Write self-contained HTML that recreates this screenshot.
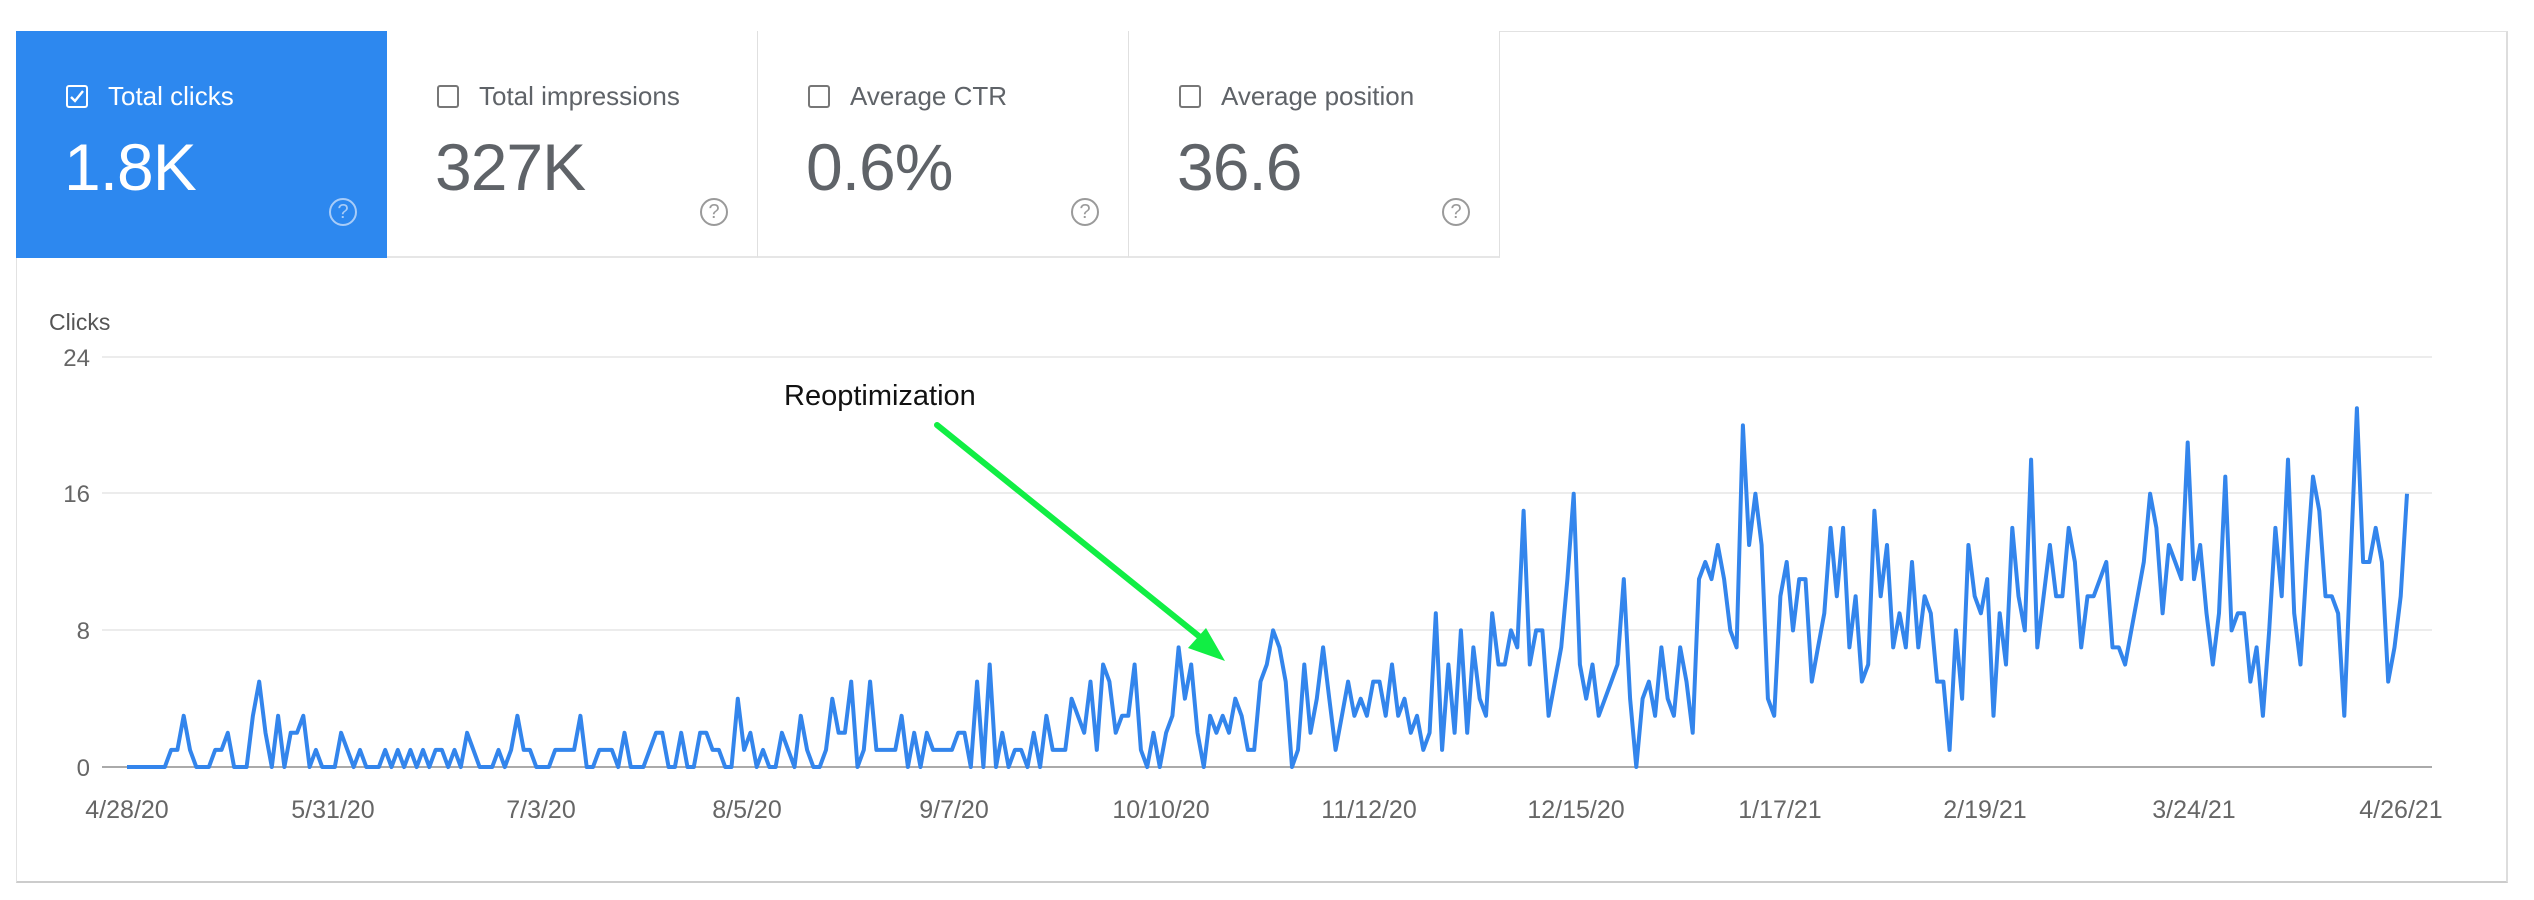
<!DOCTYPE html>
<html><head><meta charset="utf-8">
<style>
body{margin:0;width:2534px;height:900px;background:#fff;overflow:hidden;font-family:"Liberation Sans",Arial,sans-serif;position:relative}
.frame{position:absolute;left:16px;top:31px;width:2492px;height:852px;border:1px solid #e2e2e2;border-right:2px solid #ddd;border-bottom:2px solid #ccc;box-sizing:border-box}
.card{position:absolute;top:31px;height:227px;box-sizing:border-box;border-right:1px solid #e0e0e0;border-bottom:2px solid #e6e6e6;background:#fff}
.card.sel{background:#2d88ef;border:none}
.cb{position:absolute;left:50px;top:54px;width:22px;height:23px;border:2px solid #777;border-radius:3px;box-sizing:border-box}
.sel .cb{border-color:#fff}
.lbl{position:absolute;left:92px;top:50px;font-size:26px;color:#5f6368;white-space:nowrap}
.sel .lbl{color:#fff}
.num{position:absolute;left:48px;top:98px;font-size:66px;color:#5f6368;letter-spacing:-1px}
.sel .num{color:#fff}
.help{position:absolute;left:313px;top:167px;width:28px;height:28px;border:2px solid #9a9a9a;border-radius:50%;box-sizing:border-box;color:#9a9a9a;font-size:20px;text-align:center;line-height:25px}
.sel .help{border-color:#a8ccf8;color:#a8ccf8}
</style></head><body>
<div class="frame"></div>
<div class="card sel" style="left:16px;width:371px"><div class="cb"><svg width="18" height="19" style="position:absolute;left:0;top:0"><path d="M3 10 L7 14 L15 4" stroke="#fff" stroke-width="2.4" fill="none"/></svg></div><div class="lbl">Total clicks</div><div class="num">1.8K</div><div class="help">?</div></div>
<div class="card" style="left:387px;width:371px"><div class="cb"></div><div class="lbl">Total impressions</div><div class="num">327K</div><div class="help">?</div></div>
<div class="card" style="left:758px;width:371px"><div class="cb"></div><div class="lbl">Average CTR</div><div class="num">0.6%</div><div class="help">?</div></div>
<div class="card" style="left:1129px;width:371px"><div class="cb"></div><div class="lbl">Average position</div><div class="num">36.6</div><div class="help">?</div></div>

<svg id="ch" width="2534" height="900" style="position:absolute;left:0;top:0" xmlns="http://www.w3.org/2000/svg">
<g font-family="Liberation Sans, Arial, sans-serif" fill="#666">
<text x="49" y="330" font-size="23" fill="#555">Clicks</text>
<text x="90" y="366" font-size="24" text-anchor="end">24</text>
<text x="90" y="502" font-size="24" text-anchor="end">16</text>
<text x="90" y="639" font-size="24" text-anchor="end">8</text>
<text x="90" y="776" font-size="24" text-anchor="end">0</text>
</g>
<g stroke="#ececec" stroke-width="2">
<line x1="102" y1="357" x2="2432" y2="357"/>
<line x1="102" y1="493" x2="2432" y2="493"/>
<line x1="102" y1="630" x2="2432" y2="630"/>
</g>
<line x1="102" y1="767" x2="2432" y2="767" stroke="#aaa" stroke-width="2"/>
<g font-family="Liberation Sans, Arial, sans-serif" fill="#666" font-size="25" text-anchor="middle">
<text x="127" y="818">4/28/20</text>
<text x="333" y="818">5/31/20</text>
<text x="541" y="818">7/3/20</text>
<text x="747" y="818">8/5/20</text>
<text x="954" y="818">9/7/20</text>
<text x="1161" y="818">10/10/20</text>
<text x="1369" y="818">11/12/20</text>
<text x="1576" y="818">12/15/20</text>
<text x="1780" y="818">1/17/21</text>
<text x="1985" y="818">2/19/21</text>
<text x="2194" y="818">3/24/21</text>
<text x="2401" y="818">4/26/21</text>
</g>
<polyline id="pl" fill="none" stroke="#3385ec" stroke-width="4" stroke-linejoin="round"/>
<text x="784" y="405" font-family="Liberation Sans, Arial, sans-serif" font-size="29" fill="#111">Reoptimization</text>
<line x1="937" y1="425" x2="1200" y2="637" stroke="#11ee44" stroke-width="6" stroke-linecap="round"/>
<polygon points="1225,661 1188,648 1206,628" fill="#11ee44"/>
</svg>
<script>
var A="0,0,0,0,0,0,0,1,1,3,1,0,0,0,1,1,2,0,0,0,3,5,2,0,3,0,2,2,3,0,1,0,0,0,2,1,0,1,0,0,0,1,0,1,0,1,0,1,0,1,1,0,1,0,2,1,0,0,0,1,0,1,3,1,1,0,0,0,1,1,1,1,3,0,0,1,1,1,0,2,0,0,0,1,2,2,0,0,2,0,0,2,2,1,1,0,0,4,1,2,0,1,0,0,2,1,0,3,1,0,0,1,4,2,2,5,0,1,5,1,1,1,1,3,0,2,0,2,1,1,1,1,2,2,0,5,0,6,0,2,0,1,1,0,2,0,3,1,1,1,4,3,2,5,1,6,5,2,3,3,6,1,0,2,0,2,3,7,4,6,2,0,3,2,3,2,4,3,1,1,5,6,8,7,5,0".split(",").map(Number);
var B="1,6,2,4,7,4,1,3,5,3,4,3,5,5,3,6,3,4,2,3,1,2,9,1,6,2,8,2,7,4,3,9,6,6,8,7,15,6,8,8,3,5,7,11,16,6,4,6,3,4,5,6,11,4,0,4,5,3,7,4,3,7,5,2,11,12,11,13,11,8,7,20,13,16,13,4,3,10,12,8,11,11,5,7,9,14,10,14,7,10,5,6,15,10,13,7,9,7,12,7,10,9,5,5,1,8,4,13,10,9,11,3,9,6,14,10,8,18,7,10,13,10,10,14,12,7,10,10,11,12,7,7,6,8,10,12,16,14,9,13,12,11,19,11,13,9,6,9,17,8,9,9,5,7,3,8,14,10,18,9,6,12,17,15,10,10,9,3,12,21,12,12,14,12,5,7,10,16".split(",").map(Number);
var pts=[];
function seg(arr,x0,x1){for(var i=0;i<arr.length;i++){var x=x0+(x1-x0)*i/(arr.length-1);pts.push(x.toFixed(1)+","+(767-arr[i]*17.08).toFixed(1));}}
seg(A,127,1292);seg(B,1298,2407);
document.getElementById("pl").setAttribute("points",pts.join(" "));
</script>
</body></html>
